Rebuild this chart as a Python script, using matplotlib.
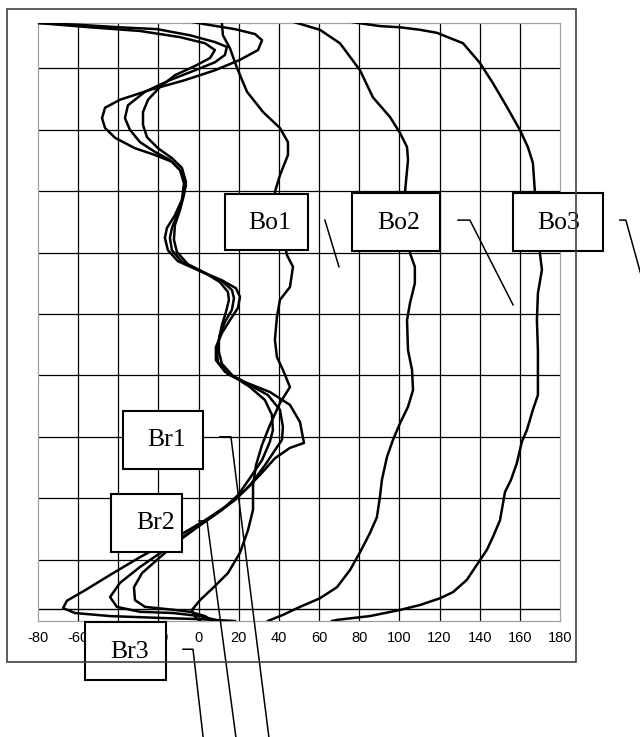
import matplotlib
matplotlib.use("Agg")
import matplotlib.pyplot as plt
from matplotlib.patches import Rectangle

# displacement profiles, x = displacement, y = height (grid units)
br_a_x = [-14.3, 3.2, 18.1, 28.1, 31.6, 29.6, 20.6, 8.1, -6.8, -24.2,
          -39.2, -46.6, -48.1, -46.6, -41.6, -31.7, -21.7, -13.3, -8.3, -6.3,
          -8.3, -11.8, -15.8, -16.8, -15.3, -10.3, 0.7, 11.6, 18.6, 20.6,
          19.6, 15.6, 11.6, 8.6, 8.6, 13.1, 23.1, 35.5, 45.5, 50.5,
          52.0, 52.5, 45.5, 38.0, 30.6, 23.1, 14.6, 3.2, -11.8, -29.2,
          -44.1, -56.6, -65.6, -67.5, -61.6, -44.1, -19.2, 0.7, 18.1]
br_a_y = [9.82, 9.72, 9.64, 9.56, 9.46, 9.30, 9.14, 8.97, 8.81, 8.65,
          8.49, 8.36, 8.19, 8.03, 7.87, 7.70, 7.59, 7.48, 7.31, 7.10,
          6.86, 6.61, 6.40, 6.24, 6.04, 5.86, 5.70, 5.55, 5.42, 5.28,
          5.10, 4.90, 4.69, 4.46, 4.25, 4.06, 3.89, 3.73, 3.52, 3.24,
          2.98, 2.90, 2.82, 2.65, 2.38, 2.13, 1.89, 1.64, 1.35, 1.04,
          0.75, 0.50, 0.33, 0.21, 0.13, 0.08, 0.05, 0.03, 0.00]

br_b_x = [-89.0, -80.0, -59.1, -39.2, -20.7, -4.3, 8.1, 14.1, 13.1, 8.1,
          -1.8, -14.3, -26.7, -35.2, -36.7, -34.2, -29.2, -21.7, -14.3, -9.3,
          -7.3, -8.3, -10.8, -13.3, -14.3, -13.3, -8.3, 2.2, 11.6, 16.6,
          17.6, 16.6, 13.1, 10.6, 9.1, 9.6, 14.6, 24.6, 34.5, 40.5,
          42.0, 41.5, 39.0, 33.1, 25.6, 18.1, 8.1, -4.3, -16.8, -29.2,
          -39.2, -44.1, -40.7, -29.2, -12.8, 0.7, 10.6]
br_b_y = [9.79, 9.74, 9.71, 9.67, 9.64, 9.54, 9.43, 9.35, 9.22, 9.10,
          8.97, 8.81, 8.62, 8.40, 8.19, 8.00, 7.80, 7.64, 7.51, 7.35,
          7.13, 6.86, 6.61, 6.40, 6.24, 6.04, 5.85, 5.68, 5.54, 5.39,
          5.26, 5.07, 4.87, 4.66, 4.41, 4.22, 4.02, 3.86, 3.68, 3.44,
          3.16, 2.95, 2.83, 2.54, 2.21, 1.97, 1.73, 1.45, 1.16, 0.88,
          0.62, 0.39, 0.23, 0.15, 0.13, 0.08, 0.00]

br_c_x = [-93.9, -80.0, -54.1, -29.2, -9.3, 3.2, 8.1, 5.7, -1.8, -11.8,
          -19.2, -25.2, -27.7, -27.7, -25.7, -20.2, -13.3, -8.3, -6.3, -7.3,
          -9.3, -11.8, -12.3, -10.8, -5.3, 3.2, 10.6, 14.6, 15.1, 13.6,
          11.6, 10.1, 10.1, 11.6, 17.1, 25.6, 33.0, 36.5, 37.0, 35.5,
          31.6, 25.6, 19.6, 11.6, 0.7, -9.3, -19.2, -28.2, -32.2, -31.7,
          -26.7, -11.8, -4.3, 3.2, 6.7]
br_c_y = [9.80, 9.74, 9.67, 9.61, 9.51, 9.41, 9.30, 9.17, 9.04, 8.89,
          8.70, 8.49, 8.29, 8.08, 7.88, 7.70, 7.54, 7.38, 7.15, 6.94,
          6.69, 6.45, 6.21, 6.01, 5.81, 5.67, 5.52, 5.36, 5.23, 5.03,
          4.82, 4.58, 4.38, 4.19, 3.99, 3.81, 3.60, 3.36, 3.11, 2.92,
          2.62, 2.33, 2.05, 1.81, 1.56, 1.32, 1.04, 0.78, 0.55, 0.34,
          0.23, 0.18, 0.15, 0.08, 0.00]

bo1_x = [10.6, 11.6, 12.1, 15.6, 19.1, 24.1, 32.1, 40.5, 44.5, 44.5,
         40.5, 38.0, 40.5, 44.0, 47.0, 45.5, 40.5, 39.0, 38.0, 39.0,
         42.0, 45.5, 40.5, 35.5, 31.6, 28.6, 27.1, 27.1, 24.6, 20.6,
         14.6, 7.2, 0.7, -3.3, -1.8, 0.7]
bo1_y = [9.82, 9.74, 9.54, 9.33, 9.01, 8.62, 8.29, 8.03, 7.80, 7.59,
         7.26, 6.99, 6.53, 5.96, 5.77, 5.44, 5.23, 4.95, 4.58, 4.30,
         4.09, 3.81, 3.55, 3.19, 2.87, 2.54, 2.21, 1.81, 1.48, 1.11,
         0.78, 0.54, 0.34, 0.18, 0.07, 0.00]

bo2_x = [43.0, 49.0, 60.4, 70.4, 80.4, 86.8, 95.3, 100.3, 103.8, 104.3,
         102.8, 103.8, 105.3, 107.7, 107.7, 105.3, 103.8, 104.3, 106.3, 106.8,
         104.3, 100.3, 96.8, 93.8, 91.3, 90.3, 88.8, 85.3, 80.4, 75.4,
         68.9, 60.4, 50.5, 42.0, 34.5]
bo2_y = [9.80, 9.74, 9.63, 9.41, 8.97, 8.53, 8.21, 7.95, 7.72, 7.51,
         6.99, 6.53, 5.99, 5.77, 5.50, 5.18, 4.90, 4.41, 4.09, 3.76,
         3.49, 3.22, 2.95, 2.67, 2.30, 2.02, 1.69, 1.43, 1.12, 0.83,
         0.55, 0.37, 0.23, 0.10, 0.00]

bo3_x = [70.4, 79.4, 90.3, 100.3, 110.2, 118.7, 131.7, 140.1, 146.6, 153.6,
         160.0, 164.0, 166.5, 167.5, 168.5, 170.0, 171.0, 169.0, 168.5, 169.0,
         169.0, 169.0, 166.5, 163.5, 161.0, 158.5, 155.6, 152.6, 150.1, 146.6,
         143.6, 140.1, 133.6, 126.7, 120.2, 110.2, 100.3, 85.3, 69.4, 66.4]
bo3_y = [9.79, 9.74, 9.69, 9.67, 9.63, 9.58, 9.41, 9.09, 8.76, 8.37,
         8.00, 7.72, 7.46, 6.99, 6.53, 5.99, 5.72, 5.34, 4.90, 4.41,
         4.09, 3.68, 3.44, 3.11, 2.92, 2.57, 2.30, 2.10, 1.64, 1.37,
         1.16, 0.99, 0.67, 0.47, 0.37, 0.26, 0.18, 0.08, 0.02, 0.00]

x_ticks = list(range(-80, 181, 20))
y_grid = list(range(1, 10))

fig = plt.figure(figsize=(6.4, 7.37), dpi=100)
# outer chart frame
fig.patches.append(Rectangle((7 / 640, 75 / 737), 569 / 640, 653 / 737,
                             transform=fig.transFigure, fill=False,
                             edgecolor="#404040", linewidth=1.2))

ax = fig.add_axes([38 / 640, 116 / 737, 522 / 640, 598.3 / 737])
ax.set_xlim(-80, 180)
ax.set_ylim(0, 9.745)

for xv in x_ticks[1:-1]:
    ax.axvline(xv, color="black", lw=0.9, zorder=1)
for yv in y_grid:
    ax.axhline(yv, color="black", lw=0.9, zorder=1)
ax.axhline(0.195, color="black", lw=1.0, zorder=1)

for xs, ys in [(br_a_x, br_a_y), (br_b_x, br_b_y), (br_c_x, br_c_y),
               (bo1_x, bo1_y), (bo2_x, bo2_y), (bo3_x, bo3_y)]:
    ax.plot(xs, ys, color="black", lw=1.8, zorder=3, solid_joinstyle="round")

ax.set_xticks(x_ticks)
ax.set_xticklabels([str(v) for v in x_ticks], fontfamily="Liberation Sans",
                   fontsize=10.5)
ax.set_yticks([])
ax.tick_params(axis="x", length=0, pad=7)
for sp in ax.spines.values():
    sp.set_color("#a0a0a0")
    sp.set_linewidth(0.9)

# callout boxes: label, (x0, x1, y0, y1), text position, leader line
callouts = [
    ("Bo1", (13.1, 54.5, 6.04, 6.95), (35.5, 6.48),
     [(62.9, 6.53), (69.9, 5.77)]),
    ("Bo2", (76.4, 120.2, 6.03, 6.97), (99.8, 6.48),
     [(129.2, 6.53), (135.1, 6.53), (156.6, 5.15)]),
    ("Bo3", (156.6, 201.4, 6.03, 6.97), (179.5, 6.48),
     [(209.8, 6.53), (212.8, 6.53), (223.8, 5.23)]),
    ("Br1", (-37.7, 2.2, 2.48, 3.42), (-15.8, 2.95),
     [(10.6, 3.00), (16.1, 3.00), (35.5, -2.02)]),
    ("Br2", (-43.6, -8.3, 1.12, 2.07), (-21.5, 1.60),
     [(0.2, 1.63), (4.2, 1.63), (19.1, -2.02)]),
    ("Br3", (-56.6, -16.3, -0.96, -0.02), (-34.2, -0.50),
     [(-7.8, -0.46), (-2.8, -0.46), (2.7, -2.02)]),
]
for label, (x0, x1, y0, y1), (tx, ty), leader in callouts:
    ax.add_patch(Rectangle((x0, y0), x1 - x0, y1 - y0, facecolor="white",
                           edgecolor="black", lw=1.5, zorder=5, clip_on=False))
    ax.text(tx, ty, label, ha="center", va="center", fontsize=18.5,
            fontfamily="Liberation Serif", zorder=6, clip_on=False)
    lx = [p[0] for p in leader]
    ly = [p[1] for p in leader]
    ax.plot(lx, ly, color="black", lw=1.1, zorder=7, clip_on=False)

plt.savefig("out.png", dpi=100)
